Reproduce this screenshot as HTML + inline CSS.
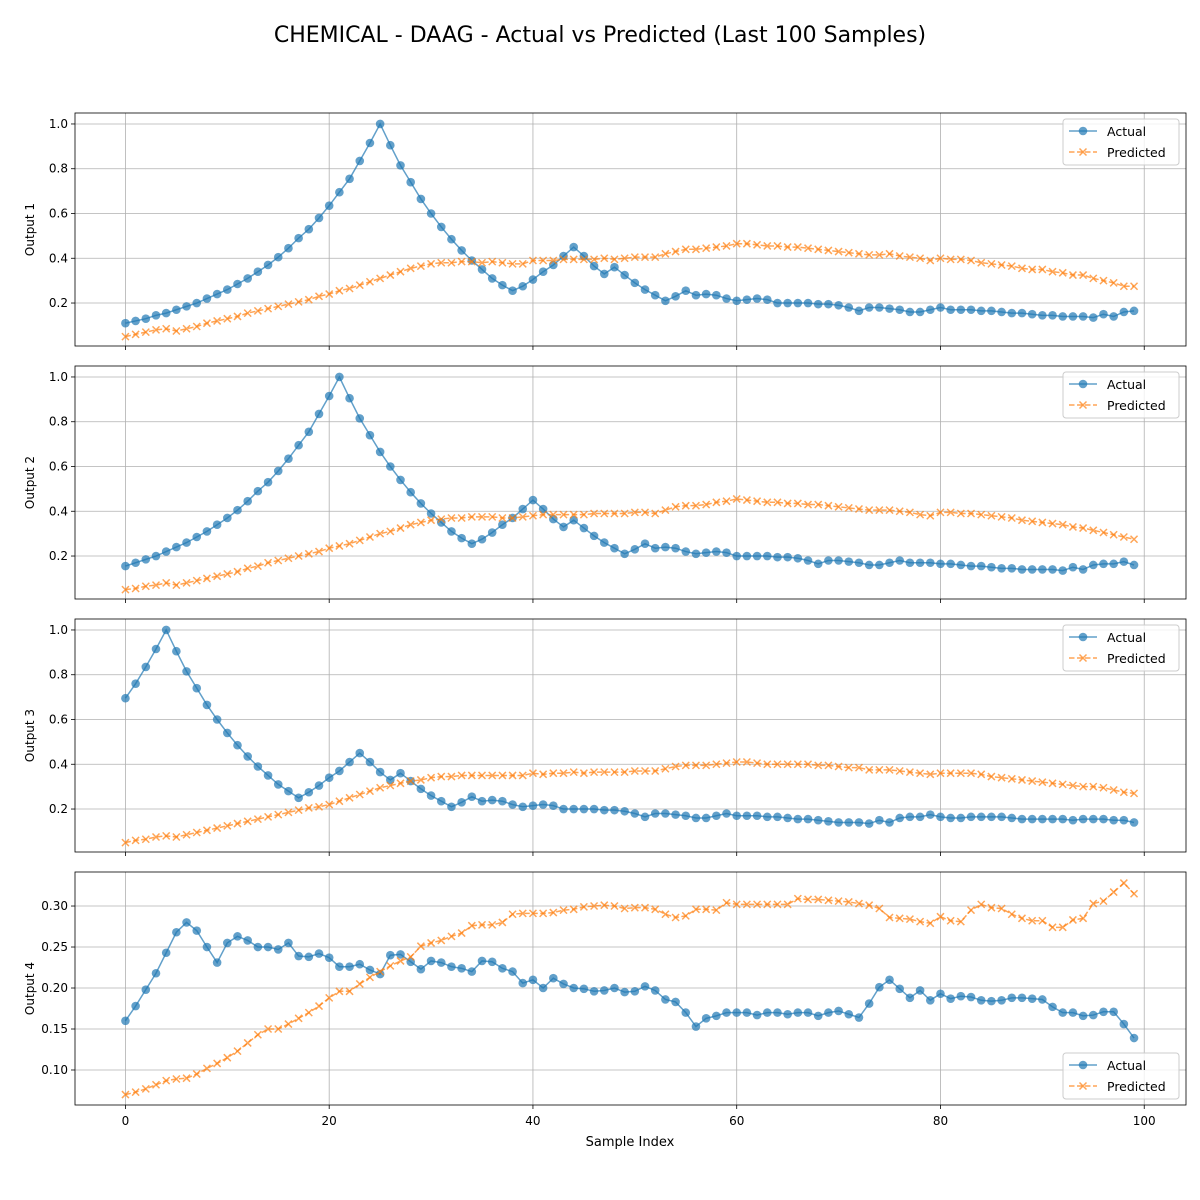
<!DOCTYPE html>
<html><head><meta charset="utf-8"><style>
body{margin:0;background:#fff;font-family:"Liberation Sans","DejaVu Sans",sans-serif}
svg{display:block}
</style></head><body>
<svg id="chart" width="1200" height="1200" xmlns="http://www.w3.org/2000/svg" font-family="DejaVu Sans, Liberation Sans, sans-serif">
<rect width="1200" height="1200" fill="#fff"/>
<text x="600" y="42" font-size="22" text-anchor="middle">CHEMICAL - DAAG - Actual vs Predicted (Last 100 Samples)</text>
<text x="630" y="1146" font-size="13" text-anchor="middle">Sample Index</text>
</svg>
<script>
const xTicks=[0,20,40,60,80,100];
const actual1=[0.11,0.12,0.13,0.145,0.155,0.17,0.185,0.2,0.22,0.24,0.26,0.285,0.31,0.34,0.37,0.405,0.445,0.49,0.53,0.58,0.635,0.695,0.755,0.835,0.915,1.0,0.905,0.815,0.74,0.665,0.6,0.54,0.485,0.435,0.39,0.35,0.31,0.28,0.255,0.275,0.305,0.34,0.37,0.41,0.45,0.41,0.365,0.33,0.36,0.325,0.29,0.26,0.235,0.21,0.23,0.255,0.235,0.24,0.235,0.22,0.21,0.215,0.22,0.215,0.2,0.2,0.2,0.2,0.195,0.195,0.19,0.18,0.165,0.18,0.18,0.175,0.17,0.16,0.16,0.17,0.18,0.17,0.17,0.17,0.165,0.165,0.16,0.155,0.155,0.15,0.145,0.145,0.14,0.14,0.14,0.135,0.15,0.14,0.16,0.165];
const pred1=[0.05,0.06,0.07,0.08,0.085,0.075,0.085,0.095,0.11,0.12,0.13,0.14,0.155,0.165,0.175,0.185,0.195,0.205,0.215,0.23,0.24,0.255,0.265,0.28,0.295,0.31,0.325,0.34,0.355,0.365,0.375,0.38,0.38,0.385,0.385,0.38,0.385,0.38,0.375,0.375,0.39,0.39,0.39,0.395,0.395,0.395,0.395,0.4,0.395,0.4,0.405,0.405,0.405,0.42,0.43,0.44,0.44,0.445,0.45,0.455,0.465,0.465,0.46,0.455,0.455,0.45,0.45,0.445,0.44,0.435,0.43,0.425,0.42,0.415,0.415,0.42,0.41,0.405,0.4,0.39,0.4,0.395,0.395,0.39,0.38,0.375,0.37,0.365,0.355,0.35,0.35,0.34,0.335,0.325,0.325,0.31,0.3,0.29,0.275,0.275];
const actual2=[0.155,0.17,0.185,0.2,0.22,0.24,0.26,0.285,0.31,0.34,0.37,0.405,0.445,0.49,0.53,0.58,0.635,0.695,0.755,0.835,0.915,1.0,0.905,0.815,0.74,0.665,0.6,0.54,0.485,0.435,0.39,0.35,0.31,0.28,0.255,0.275,0.305,0.34,0.37,0.41,0.45,0.41,0.365,0.33,0.36,0.325,0.29,0.26,0.235,0.21,0.23,0.255,0.235,0.24,0.235,0.22,0.21,0.215,0.22,0.215,0.2,0.2,0.2,0.2,0.195,0.195,0.19,0.18,0.165,0.18,0.18,0.175,0.17,0.16,0.16,0.17,0.18,0.17,0.17,0.17,0.165,0.165,0.16,0.155,0.155,0.15,0.145,0.145,0.14,0.14,0.14,0.14,0.135,0.15,0.14,0.16,0.165,0.165,0.175,0.16];
const pred2=[0.05,0.055,0.065,0.07,0.08,0.07,0.08,0.09,0.1,0.11,0.12,0.13,0.145,0.155,0.17,0.18,0.19,0.2,0.21,0.22,0.235,0.245,0.255,0.27,0.285,0.3,0.31,0.325,0.34,0.35,0.36,0.365,0.37,0.37,0.375,0.375,0.375,0.37,0.37,0.375,0.38,0.385,0.385,0.385,0.385,0.385,0.39,0.39,0.39,0.39,0.395,0.395,0.39,0.405,0.42,0.425,0.425,0.43,0.44,0.445,0.455,0.45,0.445,0.44,0.44,0.435,0.435,0.43,0.43,0.425,0.42,0.415,0.41,0.405,0.405,0.405,0.4,0.395,0.385,0.38,0.395,0.395,0.39,0.39,0.385,0.38,0.375,0.37,0.36,0.355,0.35,0.345,0.34,0.33,0.325,0.315,0.305,0.295,0.285,0.275];
const actual3=[0.695,0.76,0.835,0.915,1.0,0.905,0.815,0.74,0.665,0.6,0.54,0.485,0.435,0.39,0.35,0.31,0.28,0.25,0.275,0.305,0.34,0.37,0.41,0.45,0.41,0.365,0.33,0.36,0.325,0.29,0.26,0.235,0.21,0.23,0.255,0.235,0.24,0.235,0.22,0.21,0.215,0.22,0.215,0.2,0.2,0.2,0.2,0.195,0.195,0.19,0.18,0.165,0.18,0.18,0.175,0.17,0.16,0.16,0.17,0.18,0.17,0.17,0.17,0.165,0.165,0.16,0.155,0.155,0.15,0.145,0.14,0.14,0.14,0.135,0.15,0.14,0.16,0.165,0.165,0.175,0.165,0.16,0.16,0.165,0.165,0.165,0.165,0.16,0.155,0.155,0.155,0.155,0.155,0.15,0.155,0.155,0.155,0.15,0.15,0.14];
const pred3=[0.05,0.06,0.065,0.075,0.08,0.075,0.085,0.095,0.105,0.115,0.125,0.135,0.145,0.155,0.165,0.175,0.185,0.195,0.205,0.21,0.22,0.235,0.25,0.265,0.28,0.295,0.305,0.315,0.325,0.33,0.34,0.345,0.345,0.35,0.35,0.35,0.35,0.35,0.35,0.35,0.36,0.355,0.36,0.36,0.365,0.36,0.365,0.365,0.365,0.365,0.37,0.37,0.37,0.38,0.39,0.395,0.395,0.395,0.4,0.405,0.41,0.41,0.405,0.4,0.4,0.4,0.4,0.4,0.395,0.395,0.39,0.385,0.385,0.375,0.375,0.375,0.37,0.365,0.36,0.355,0.36,0.36,0.36,0.36,0.355,0.345,0.34,0.335,0.33,0.325,0.32,0.315,0.31,0.305,0.3,0.3,0.295,0.285,0.275,0.27];
const actual4=[0.16,0.178,0.198,0.218,0.243,0.268,0.28,0.27,0.25,0.231,0.255,0.263,0.258,0.25,0.25,0.247,0.255,0.239,0.238,0.242,0.237,0.226,0.226,0.229,0.222,0.217,0.24,0.241,0.232,0.223,0.233,0.231,0.226,0.224,0.22,0.233,0.232,0.224,0.22,0.206,0.21,0.2,0.212,0.205,0.2,0.199,0.196,0.197,0.2,0.195,0.196,0.202,0.197,0.186,0.183,0.17,0.153,0.163,0.166,0.17,0.17,0.17,0.167,0.17,0.17,0.168,0.17,0.17,0.166,0.17,0.172,0.168,0.164,0.181,0.201,0.21,0.199,0.188,0.197,0.185,0.193,0.187,0.19,0.189,0.185,0.184,0.185,0.188,0.188,0.187,0.186,0.177,0.17,0.17,0.166,0.167,0.171,0.171,0.156,0.139];
const pred4=[0.07,0.073,0.077,0.082,0.087,0.089,0.09,0.095,0.102,0.108,0.115,0.123,0.133,0.143,0.15,0.15,0.156,0.163,0.17,0.178,0.188,0.196,0.196,0.205,0.213,0.22,0.227,0.233,0.238,0.251,0.255,0.258,0.263,0.267,0.276,0.277,0.277,0.28,0.29,0.291,0.291,0.291,0.292,0.295,0.296,0.299,0.3,0.301,0.3,0.297,0.298,0.298,0.296,0.29,0.286,0.288,0.296,0.296,0.295,0.304,0.302,0.302,0.302,0.302,0.302,0.302,0.309,0.308,0.308,0.307,0.306,0.305,0.303,0.301,0.297,0.286,0.285,0.284,0.281,0.279,0.287,0.282,0.281,0.295,0.302,0.298,0.297,0.29,0.285,0.282,0.282,0.274,0.274,0.283,0.285,0.303,0.306,0.317,0.328,0.315];
const yTicks123=[0.2,0.4,0.6,0.8,1.0];
const yTicks4=[0.10,0.15,0.20,0.25,0.30];

const NS='http://www.w3.org/2000/svg';
const svg=document.getElementById('chart');
function mk(tag,attrs,parent){const e=document.createElementNS(NS,tag);for(const k in attrs)e.setAttribute(k,attrs[k]);(parent||svg).appendChild(e);return e;}
const L=75,R=1186,xmin=-4.95,xmax=104.1;
const sx=v=>L+(v-xmin)/(xmax-xmin)*(R-L);
const panels=[
 {a:actual1,p:pred1,top:113,ymin:0.008,ymax:1.049,ticks:yTicks123,dec:1,label:'Output 1',legTop:true},
 {a:actual2,p:pred2,top:366,ymin:0.008,ymax:1.049,ticks:yTicks123,dec:1,label:'Output 2',legTop:true},
 {a:actual3,p:pred3,top:619,ymin:0.008,ymax:1.049,ticks:yTicks123,dec:1,label:'Output 3',legTop:true},
 {a:actual4,p:pred4,top:872,ymin:0.0573,ymax:0.3415,ticks:yTicks4,dec:2,label:'Output 4',legTop:false}];
panels.forEach((pn,i)=>{
 const T=pn.top,B=T+233;
 const sy=v=>B-(v-pn.ymin)/(pn.ymax-pn.ymin)*(B-T);
 const g=mk('g',{});
 
 
 xTicks.forEach(t=>{
  const x=sx(t);
  const gl=mk('line',{x1:x,x2:x,y1:T,y2:B,stroke:'#b0b0b0','stroke-width':0.8},g);
  
  
  mk('line',{x1:x,x2:x,y1:B,y2:B+4,stroke:'#000','stroke-width':0.8},g);
  if(i===3){const tx=mk('text',{x:x,y:B+20,'font-size':12,'text-anchor':'middle'},g);tx.textContent=t;
   
   }
 });
 pn.ticks.forEach(t=>{
  const y=sy(t);
  const gl=mk('line',{x1:L,x2:R,y1:y,y2:y,stroke:'#b0b0b0','stroke-width':0.8},g);
  
  
  mk('line',{x1:L-4,x2:L,y1:y,y2:y,stroke:'#000','stroke-width':0.8},g);
  const tx=mk('text',{x:L-7,y:y+4,'font-size':12,'text-anchor':'end'},g);tx.textContent=t.toFixed(pn.dec);
  
  
 });
 const yl=mk('text',{x:0,y:0,'font-size':12,'text-anchor':'middle',transform:`translate(34,${(T+B)/2}) rotate(-90)`},g);
 yl.textContent=pn.label;
 
 
 const pa=pn.a.map((v,j)=>sx(j)+','+sy(v)).join(' ');
 const la=mk('polyline',{points:pa,fill:'none',stroke:'#1f77b4','stroke-width':1.5,'stroke-opacity':0.7},g);
 
 
 pn.a.forEach((v,j)=>{const c=mk('circle',{cx:sx(j),cy:sy(v),r:4.3,fill:'#1f77b4','fill-opacity':0.7},g);
  
  });
 const pp=pn.p.map((v,j)=>sx(j)+','+sy(v)).join(' ');
 const lp=mk('polyline',{points:pp,fill:'none',stroke:'#ff7f0e','stroke-width':1.5,'stroke-opacity':0.7,'stroke-dasharray':'5.5,2.5'},g);
 
 
 pn.p.forEach((v,j)=>{const x=sx(j),y=sy(v),d=3.5;
  const m=mk('path',{d:`M${x-d},${y-d}L${x+d},${y+d}M${x-d},${y+d}L${x+d},${y-d}`,stroke:'#ff7f0e','stroke-opacity':0.7,'stroke-width':1.5},g);
  
  });
 mk('rect',{x:L,y:T,width:R-L,height:233,fill:'none',stroke:'#000','stroke-width':0.8},g);
 const ly=pn.legTop?T+6:B-52;
 const lg=mk('g',{},g);
 
 
 mk('rect',{x:1063,y:ly,width:116,height:46,rx:3,fill:'#fff','fill-opacity':0.8,stroke:'#ccc'},lg);
 mk('line',{x1:1069,x2:1097,y1:ly+12,y2:ly+12,stroke:'#1f77b4','stroke-width':1.5,'stroke-opacity':0.7},lg);
 mk('circle',{cx:1083,cy:ly+12,r:4.3,fill:'#1f77b4','fill-opacity':0.7},lg);
 const t1=mk('text',{x:1107,y:ly+17,'font-size':12.5},lg);t1.textContent='Actual';
 
 
 mk('line',{x1:1069,x2:1097,y1:ly+33,y2:ly+33,stroke:'#ff7f0e','stroke-width':1.5,'stroke-opacity':0.7,'stroke-dasharray':'5.5,2.5'},lg);
 mk('path',{d:`M1079.5,${ly+29.5}L1086.5,${ly+36.5}M1079.5,${ly+36.5}L1086.5,${ly+29.5}`,stroke:'#ff7f0e','stroke-opacity':0.7,'stroke-width':1.5},lg);
 const t2=mk('text',{x:1107,y:ly+38,'font-size':12.5},lg);t2.textContent='Predicted';
 
 
});
</script>
</body></html>
